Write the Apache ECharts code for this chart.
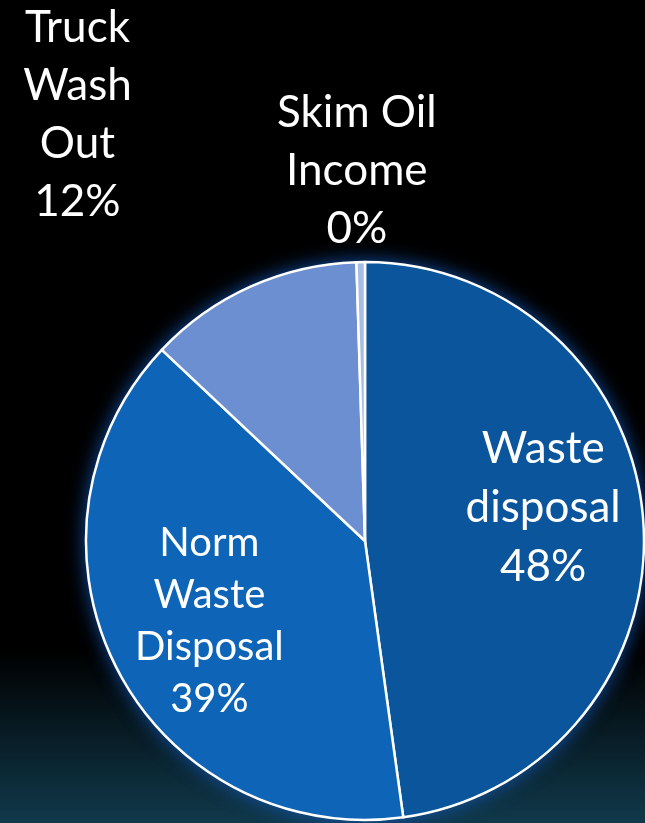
<!DOCTYPE html>
<html>
<head>
<meta charset="utf-8">
<style>
html,body{margin:0;padding:0;background:#000;}
#chart{width:645px;height:823px;}
</style>
<script src="https://cdn.jsdelivr.net/npm/echarts@6/dist/echarts.min.js"></script>
</head>
<body>
<div id="chart"></div>
<script>
// Data
const categories = ['Waste\ndisposal', 'Norm\nWaste\nDisposal', 'Truck\nWash\nOut', 'Skim Oil\nIncome'];
const values = [47.8, 39.2, 12.49, 0.49];

// Styles (kept separate from data)
const sliceColors = ['#0a559c', '#0e65b7', '#6b8fd0', '#a8bde4'];
const labelFontSizes = [44, 40, 44, 44];
const labelLineHeights = [59, 52, 58, 58];
const labelShifts = [[36, -23], [-29, 15], [-229, -296], [-6, -228]];

const chart = echarts.init(document.getElementById('chart'), null, {renderer: 'canvas'});

const total = values.reduce((a, b) => a + b, 0);

const pieData = categories.map((name, i) => ({
  name: name,
  value: values[i],
  itemStyle: {color: sliceColors[i]},
  label: {fontSize: labelFontSizes[i], lineHeight: labelLineHeights[i]}
}));

const option = {
  backgroundColor: {
    type: 'linear', x: 0, y: 0, x2: 0, y2: 1,
    colorStops: [
      {offset: 0, color: '#000000'},
      {offset: 0.79, color: '#000000'},
      {offset: 1, color: '#10394b'}
    ]
  },
  animation: false,
  series: [
    {
      type: 'pie',
      silent: true,
      center: [365, 541],
      radius: 279,
      label: {show: false},
      labelLine: {show: false},
      itemStyle: {
        color: '#0a559c',
        shadowBlur: 20,
        shadowColor: 'rgba(18,90,190,0.95)'
      },
      data: [{name: 'glow', value: total}]
    },
    {
      type: 'pie',
      center: [365, 541],
      radius: 279,
      startAngle: 90,
      clockwise: true,
      avoidLabelOverlap: false,
      itemStyle: {
        borderColor: '#ffffff',
        borderWidth: 2.5
      },
      label: {
        show: true,
        position: 'inside',
        color: '#ffffff',
        fontFamily: 'Lato',
        align: 'center',
        formatter: function (p) {
          return p.name + '\n' + Math.round(p.percent) + '%';
        }
      },
      labelLine: {show: false},
      labelLayout: function (params) {
        const s = labelShifts[params.dataIndex];
        return {dx: s[0], dy: s[1]};
      },
      emphasis: {disabled: true},
      data: pieData
    }
  ]
};

chart.setOption(option);
</script>
</body>
</html>
